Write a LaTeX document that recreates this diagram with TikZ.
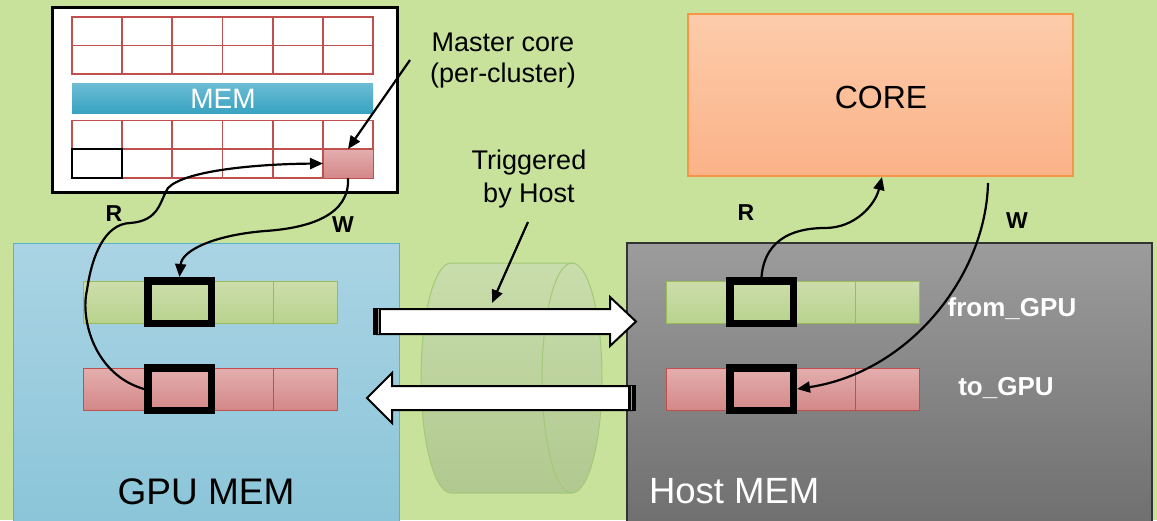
\documentclass[tikz,border=0pt]{standalone}
\usepackage{fontspec}
\setmainfont{Liberation Sans}
\usetikzlibrary{arrows.meta}
\definecolor{bg}{HTML}{C8E29B}
\definecolor{gridred}{HTML}{C0504D}
\definecolor{gpuTop}{HTML}{AAD4E4}
\definecolor{gpuBot}{HTML}{8AC4D8}
\definecolor{gpuLine}{HTML}{5BB2CC}
\definecolor{hostTop}{HTML}{9C9C9C}
\definecolor{hostBot}{HTML}{6E6E6E}
\definecolor{coreTop}{HTML}{FCCCAA}
\definecolor{coreBot}{HTML}{FBB288}
\definecolor{coreLine}{HTML}{F79646}
\definecolor{redTop}{HTML}{E4AEAE}
\definecolor{redBot}{HTML}{D48888}
\definecolor{grnTop}{HTML}{CCDDAB}
\definecolor{grnBot}{HTML}{B9D38E}
\definecolor{grnLine}{HTML}{9BBB59}
\definecolor{memTop}{HTML}{6CBCD4}
\definecolor{memBot}{HTML}{38A3C1}
\definecolor{cylFill}{HTML}{BCD59A}
\definecolor{cylLine}{HTML}{A3C977}
\newcommand\myfs[1]{\fontsize{#1}{#1}\selectfont}
\begin{document}
\begin{tikzpicture}[x=1pt,y=-1pt,
  every node/.style={inner sep=0pt, outer sep=0pt},
  gcell/.style={draw=gridred, line width=1.8pt},
  grnrow/.style={top color=grnTop, bottom color=grnBot, draw=grnLine, line width=1pt},
  redrow/.style={top color=redTop, bottom color=redBot, draw=gridred, line width=1pt},
  hl/.style={draw=black, line width=7.5pt, minimum width=63.5pt, minimum height=42.5pt, outer sep=3.75pt},
  conn/.style={line width=2.2pt, -{Triangle[length=13pt,width=11pt]}},
  blockarrow/.style={fill=white, draw=black, line width=2pt, line join=miter},
  lbl/.style={font=\myfs{23}\bfseries, anchor=base},
  whitelbl/.style={font=\myfs{26}\bfseries, text=white, anchor=base}]
\useasboundingbox (0,0) rectangle (1157,520);
\fill[bg] (0,0) rectangle (1157,520);

% ---------- cluster box ----------
\node[draw=black, line width=3pt, fill=white, minimum width=345pt, minimum height=185pt] (cluster) at (224.5,99.5) {};
\foreach \i in {0,...,5}{
  \draw[gcell] (72+\i*50.17,17) rectangle +(50.17,28.5);
  \draw[gcell] (72+\i*50.17,45.5) rectangle +(50.17,28.5);
  \draw[gcell] (72+\i*50.17,120.5) rectangle +(50.17,28.5);
}
\foreach \i in {1,...,4}{
  \draw[gcell] (72+\i*50.17,149) rectangle +(50.17,29);
}
\draw[black, line width=2pt] (72,149) rectangle (122.17,178);
\node[top color=redTop, bottom color=redBot, draw=gridred, line width=1pt, minimum width=50pt, minimum height=29pt] (mc) at (348,163.5) {};
\node[top color=memTop, bottom color=memBot, minimum width=301pt, minimum height=30pt] (membar) at (222.5,98) {};
\node[font=\myfs{28}, text=white, anchor=base] (memtxt) at (223,108.5) {MEM};

% ---------- Master core label ----------
\node[font=\fontsize{27}{31}\selectfont, align=center] (master) at (503,61) {Master core\\(per-cluster)};
\coordinate (masterA) at (410,60);
\draw[conn] (masterA) -- (mc.north);

% ---------- GPU MEM ----------
\node[top color=gpuTop, bottom color=gpuBot, draw=gpuLine, line width=1pt, minimum width=386pt, minimum height=290pt] (gpumem) at (206,388) {};
\node[font=\myfs{37}, anchor=base] (gputxt) at (206,504) {GPU MEM};
\foreach \i in {0,...,3}{
  \shade[grnrow] (83+\i*63.5,281) rectangle +(63.5,42);
  \shade[redrow] (83+\i*63.5,368) rectangle +(63.5,42);
}
\node[hl] (gG) at (179.5,302) {};
\node[hl] (gR) at (179.5,389) {};

% ---------- Host MEM ----------
\node[top color=hostTop, bottom color=hostBot, draw=black!80, line width=1.5pt, minimum width=525pt, minimum height=290pt] (hostmem) at (889.5,388) {};
\node[font=\myfs{36.5}, text=white, anchor=base west] (hosttxt) at (649,503) {Host MEM};
\foreach \i in {0,...,3}{
  \shade[grnrow] (666+\i*63.25,281) rectangle +(63.25,42);
  \shade[redrow] (666+\i*63.25,368) rectangle +(63.25,42);
}
\node[hl] (hG) at (761.5,302) {};
\node[hl] (hR) at (761.5,389) {};

% ---------- CORE ----------
\node[top color=coreTop, bottom color=coreBot, draw=coreLine, line width=1.2pt, minimum width=385pt, minimum height=162pt] (core) at (880.5,95) {};
\node[font=\myfs{32}, anchor=base] (coretxt) at (881,108) {CORE};
\coordinate (coreR) at (882,177);
\coordinate (coreW) at (988,183);

% ---------- cylinder ----------
\shade[top color=cylFill!80!white, bottom color=cylFill!93!black, fill opacity=0.9, draw=cylLine, line width=1pt]
  (451,263) -- (572,263) arc[start angle=-90, end angle=90, x radius=30, y radius=115]
  -- (451,493) arc[start angle=90, end angle=270, x radius=30, y radius=115] -- cycle;
\draw[cylLine, line width=1pt] (572,263) arc[start angle=-90, end angle=-270, x radius=30, y radius=115];

% ---------- block arrows ----------
\draw[blockarrow] (377,309) -- (610,309) -- (610,297) -- (636,321.5) -- (610,346) -- (610,334) -- (377,334) -- cycle;
\fill[black] (373,308) rectangle (381,335);
\draw[white!60!black, line width=0.6pt] (378,309) -- (378,334);
\draw[blockarrow] (632,386) -- (392,386) -- (392,373) -- (367,398) -- (392,423) -- (392,410) -- (632,410) -- cycle;
\fill[black] (628,385) rectangle (636,411);
\draw[white!60!black, line width=0.6pt] (631,386) -- (631,410);

% ---------- Triggered by Host ----------
\node[font=\fontsize{27}{33}\selectfont, align=center] (trig) at (529,179) {Triggered\\by Host};
\coordinate (trigA) at (528,222);
\coordinate (trigB) at (492,303);
\draw[conn] (trigA) -- (trigB);

% ---------- R / W connectors ----------
\draw[conn] (gR.west) .. controls (95,375) and (80,320) .. (87,290)
  .. controls (92,255) and (105,224) .. (130,223)
  .. controls (160,221) and (160,200) .. (168,188)
  .. controls (185,170) and (260,164) .. (mc.west);
\draw[conn] (mc.south) .. controls (350,215) and (310,228) .. (265,231)
  .. controls (215,235) and (182,250) .. (gG.north);
\draw[conn] (hG.north) .. controls (765,235) and (800,228) .. (825,228)
  .. controls (855,228) and (875,205) .. (coreR);
\draw[conn] (coreW) .. controls (986,275) and (910,372) .. (hR.east);

\node[whitelbl] (fromgpu) at (1012,316) {from\_GPU};
\node[whitelbl] (togpu) at (1006,395) {to\_GPU};
\node[lbl] (rl) at (114,221) {R};
\node[lbl] (wl) at (343,232) {W};
\node[lbl] (rr) at (746,220) {R};
\node[lbl] (wr) at (1017,228) {W};
\end{tikzpicture}
\end{document}
